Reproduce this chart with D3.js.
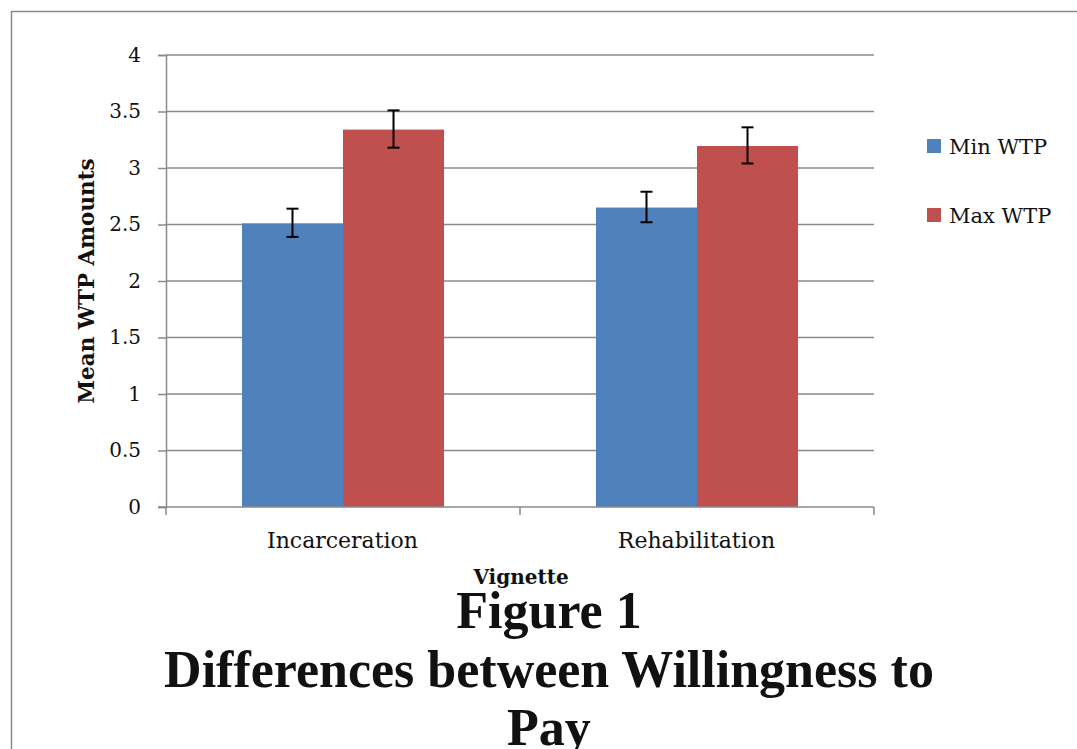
<!DOCTYPE html>
<html><head><meta charset="utf-8">
<script src="https://cdn.jsdelivr.net/npm/d3@7"></script>
<style>body{margin:0;background:#fff}svg{display:block}</style>
</head><body>
<svg id="c" width="1077" height="749"></svg>
<script>
const categories = ["Incarceration", "Rehabilitation"];
const seriesNames = ["Min WTP", "Max WTP"];
const minWTP = [2.51, 2.65];
const maxWTP = [3.34, 3.195];
const minErrLow = [2.39, 2.52];
const minErrHigh = [2.64, 2.79];
const maxErrLow = [3.18, 3.04];
const maxErrHigh = [3.51, 3.36];
const yTicks = [0, 0.5, 1, 1.5, 2, 2.5, 3, 3.5, 4];
const colors = ["#4F81BD", "#C0504D"];

const serif = "'DejaVu Serif', 'Liberation Serif', serif";
const titleFont = "'Liberation Serif', serif";
const svg = d3.select("#c");

// outer frame
svg.append("path").attr("d", "M11.5,749 V11.5 H1077").attr("fill","none")
  .attr("stroke","#8a8a8a").attr("stroke-width",1.5);

const L = 166, R = 874, T = 55, B = 507;
const x0 = d3.scaleBand().domain(categories).range([L, R]).paddingInner(0).paddingOuter(0);
const x1 = d3.scaleBand().domain(seriesNames).range([0, x0.bandwidth()]).paddingInner(0).paddingOuter(0.752);
const y = d3.scaleLinear().domain([0, 4]).range([B, T]);

// gridlines
svg.append("g").selectAll("line").data(yTicks.filter(d=>d>0)).join("line")
  .attr("x1", L).attr("x2", R).attr("y1", d=>y(d)).attr("y2", d=>y(d))
  .attr("stroke", "#8a8a8a").attr("stroke-width", 1.5);

// y axis
const yAxis = svg.append("g").attr("transform", `translate(${L},0)`)
  .call(d3.axisLeft(y).tickValues(yTicks).tickSize(8).tickPadding(17).tickFormat(d3.format("")));
yAxis.select(".domain").attr("stroke","#8a8a8a").attr("stroke-width",1.5);
yAxis.selectAll(".tick line").attr("stroke","#8a8a8a").attr("stroke-width",1.5);
yAxis.selectAll("text").attr("font-family", serif).attr("font-size", 20).attr("fill","#111");

// bars
const data = categories.map((c,i)=>({c, vals:[
  {s:seriesNames[0], v:minWTP[i], lo:minErrLow[i], hi:minErrHigh[i]},
  {s:seriesNames[1], v:maxWTP[i], lo:maxErrLow[i], hi:maxErrHigh[i]}]}));
const g = svg.append("g").selectAll("g").data(data).join("g")
  .attr("transform", d=>`translate(${x0(d.c)},0)`);
g.selectAll("rect").data(d=>d.vals).join("rect")
  .attr("x", d=>x1(d.s)).attr("width", x1.bandwidth())
  .attr("y", d=>y(d.v)).attr("height", d=>y(0)-y(d.v))
  .attr("fill", (d,i)=>colors[i]);

// x axis
const xAxisG = svg.append("g").attr("transform", `translate(0,${B})`);
xAxisG.append("line").attr("x1", L-8).attr("x2", R).attr("stroke","#8a8a8a").attr("stroke-width",1.5);
xAxisG.selectAll(".tk").data([L, (L+R)/2, R]).join("line").attr("class","tk")
  .attr("x1", d=>d).attr("x2", d=>d).attr("y1",0).attr("y2",8)
  .attr("stroke","#8a8a8a").attr("stroke-width",1.5);
xAxisG.selectAll("text").data(categories).join("text")
  .attr("x", d=>x0(d)+x0.bandwidth()/2 - 0.5).attr("y", 41)
  .attr("text-anchor","middle").attr("font-family", serif).attr("font-size", 22).attr("fill","#111")
  .text(d=>d);

// error bars
const eb = g.selectAll("g.eb").data(d=>d.vals).join("g").attr("class","eb");
eb.append("line").attr("x1", d=>x1(d.s)+x1.bandwidth()/2).attr("x2", d=>x1(d.s)+x1.bandwidth()/2)
  .attr("y1", d=>y(d.lo)).attr("y2", d=>y(d.hi)).attr("stroke","#000").attr("stroke-width",2);
eb.selectAll("line.cap").data(d=>[d.lo,d.hi].map(v=>({v, cx:x1(d.s)+x1.bandwidth()/2}))).join("line")
  .attr("class","cap").attr("x1", d=>d.cx-6).attr("x2", d=>d.cx+6)
  .attr("y1", d=>y(d.v)).attr("y2", d=>y(d.v)).attr("stroke","#000").attr("stroke-width",2);

// legend
const leg = svg.append("g").selectAll("g").data(seriesNames).join("g")
  .attr("transform", (d,i)=>`translate(927,${139 + i*69})`);
leg.append("rect").attr("width",14).attr("height",14).attr("fill",(d,i)=>colors[i]);
leg.append("text").attr("x",22).attr("y",15).attr("font-family", serif).attr("font-size", 21)
  .attr("fill","#111").text(d=>d);

// axis titles
svg.append("text").attr("transform","translate(94,281) rotate(-90)").attr("text-anchor","middle")
  .attr("font-family", serif).attr("font-weight","bold").attr("font-size", 21.5).attr("fill","#111")
  .text("Mean WTP Amounts");
svg.append("text").attr("x", 521).attr("y", 584).attr("text-anchor","middle")
  .attr("font-family", serif).attr("font-weight","bold").attr("font-size", 20).attr("fill","#111")
  .text("Vignette");

// title
const titleLines = ["Figure 1", "Differences between Willingness to", "Pay"];
svg.append("g").selectAll("text").data(titleLines).join("text")
  .attr("x", 549).attr("y", (d,i)=>628 + i*58.5).attr("text-anchor","middle")
  .attr("font-family", titleFont).attr("font-weight","bold").attr("font-size", 52).attr("fill","#111")
  .text(d=>d);
</script>
</body></html>
